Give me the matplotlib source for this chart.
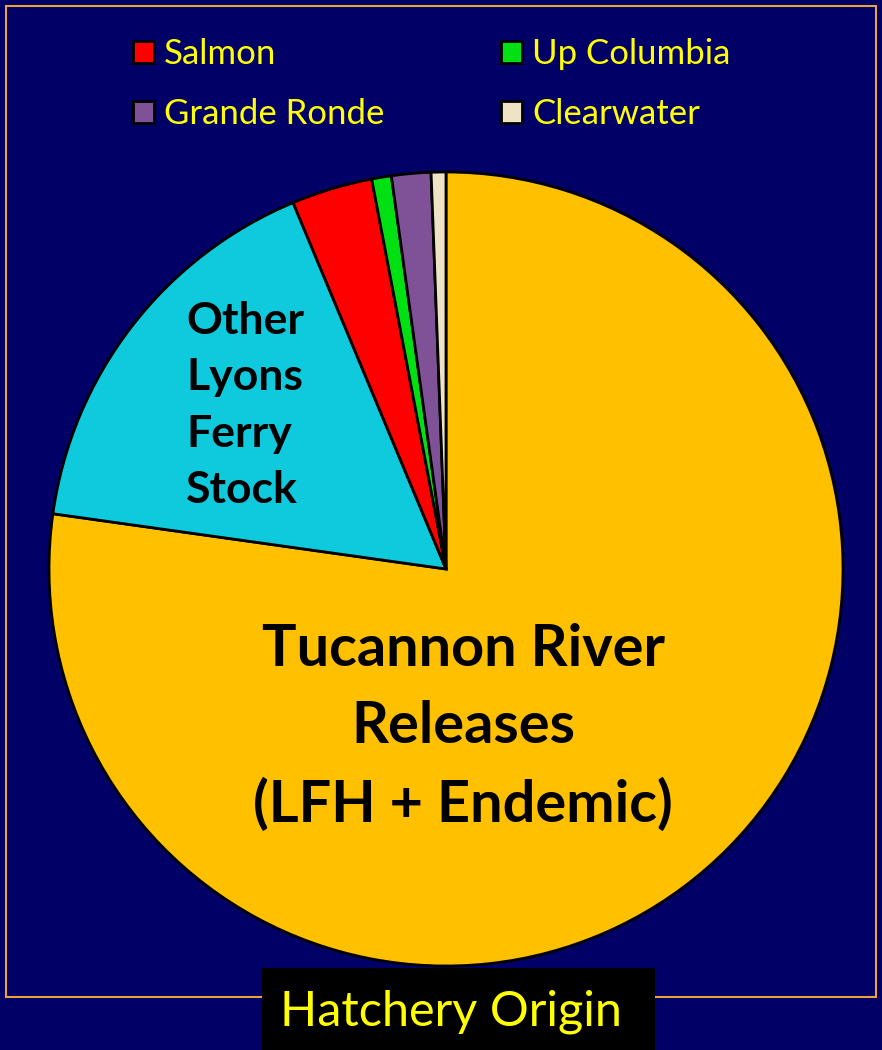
import matplotlib
matplotlib.use("Agg")
import matplotlib.pyplot as plt
from matplotlib.patches import Rectangle

# slice data, clockwise from 12 o'clock
sources = ["Tucannon River Releases", "Other Lyons Ferry Stock", "Salmon",
           "Up Columbia", "Grande Ronde", "Clearwater"]
shares = [77.3, 16.5, 3.3, 0.8, 1.6, 0.6]
colors = ["#FFC000", "#0FC9DC", "#FF0000", "#00E012", "#7F5298", "#EEE3C5"]
legend_order = ["Salmon", "Grande Ronde", "Up Columbia", "Clearwater"]

W, H = 882, 1050
BG = "#000066"

plt.rcParams["font.family"] = ["Lato", "DejaVu Sans"]


def fx(x):
    return x / W


def fy(y):
    return 1 - y / H


fig = plt.figure(figsize=(W / 100, H / 100), dpi=100, facecolor=BG)

# pie axes: centre (446, 569), radius 397 px
cx, cy, r = 446, 569, 397
ax = fig.add_axes([fx(cx - r), fy(cy + r), 2 * r / W, 2 * r / H])
ax.set_facecolor(BG)
wedges, _ = ax.pie(
    shares,
    colors=colors,
    startangle=90,
    counterclock=False,
    radius=1,
    wedgeprops={"edgecolor": "black", "linewidth": 2, "clip_on": False},
)
ax.set_xlim(-1, 1)
ax.set_ylim(-1, 1)
ax.set_aspect("equal")
ax.axis("off")

# slice labels
ax.text(0.043, -0.40, "Tucannon River\nReleases\n(LFH + Endemic)",
        ha="center", va="center", fontsize=41.5, fontweight="bold",
        color="black", linespacing=1.56)
ax.text(-0.655, 0.412, "Other\nLyons\nFerry\nStock",
        ha="left", va="center", fontsize=32, fontweight="bold",
        color="black", linespacing=1.5)

# legend for the small slices
handles = [wedges[sources.index(s)] for s in legend_order]
leg = fig.legend(
    handles, legend_order,
    loc="upper left",
    bbox_to_anchor=(fx(133), fy(38)),
    ncol=2,
    frameon=False,
    borderpad=0,
    borderaxespad=0,
    fontsize=25,
    labelcolor="#FFFF00",
    handlelength=0.6,
    handleheight=0.6,
    handletextpad=0.3,
    columnspacing=3.35,
    labelspacing=0.82,
)

# gold frame around the plot area
fig.patches.append(Rectangle((fx(6), fy(997)), fx(876) - fx(6), fy(6) - fy(997),
                             transform=fig.transFigure, fill=False,
                             edgecolor="#E8A33A", linewidth=1.5, zorder=0))

# black title box at the bottom
fig.patches.append(Rectangle((fx(262), 0), fx(655) - fx(262), fy(968),
                             transform=fig.transFigure, facecolor="black",
                             edgecolor="none", zorder=5))
fig.text(fx(451), fy(1012), "Hatchery Origin", ha="center", va="center",
         fontsize=35, color="#FFFF00", zorder=6)

fig.savefig("out.png", dpi=100, facecolor=BG)
